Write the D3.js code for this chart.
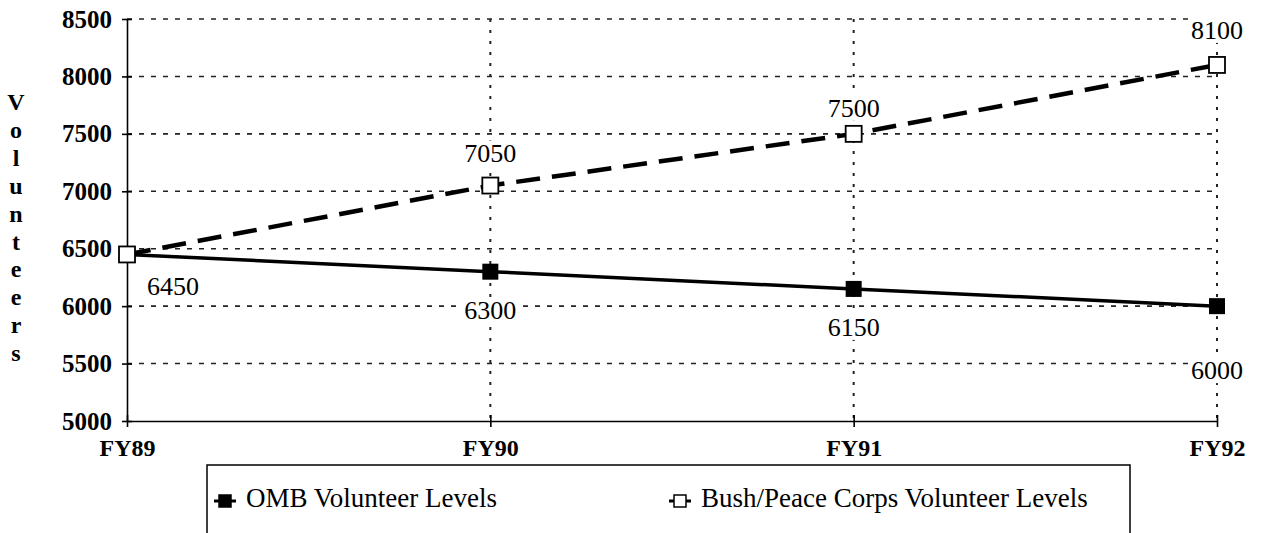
<!DOCTYPE html>
<html>
<head>
<meta charset="utf-8">
<script src="https://cdn.jsdelivr.net/npm/d3@7"></script>
<style>
  body { margin: 0; background: #fff; }
  svg { display: block; }
</style>
</head>
<body>
<svg id="chart" width="1262" height="533"></svg>
<script>
// data
var years = ["FY89", "FY90", "FY91", "FY92"];
var ombLevels = [6450, 6300, 6150, 6000];
var bushLevels = [6450, 7050, 7500, 8100];
var yTicks = [5000, 5500, 6000, 6500, 7000, 7500, 8000, 8500];
var seriesNames = ["OMB Volunteer Levels", "Bush/Peace Corps Volunteer Levels"];
var yTitle = "Volunteers";

var serif = "Liberation Serif";
var svg = d3.select("#chart").style("font-family", serif);

var margin = { top: 19, right: 45, bottom: 112, left: 127 };
var width = 1262 - margin.left - margin.right,
    height = 533 - margin.top - margin.bottom;

var g = svg.append("g")
    .attr("transform", "translate(" + margin.left + "," + margin.top + ")");

var x = d3.scalePoint()
    .domain(years)
    .range([0, width]);

var y = d3.scaleLinear()
    .domain([5000, 8500])
    .range([height, 0]);

// horizontal dashed grid
g.append("g")
    .selectAll("line")
    .data(yTicks.slice(1))
    .join("line")
    .attr("x1", 0)
    .attr("x2", width)
    .attr("y1", function (d) { return y(d); })
    .attr("y2", function (d) { return y(d); })
    .attr("stroke", "#222")
    .attr("stroke-width", 1.6)
    .attr("stroke-dasharray", "5,7");

// vertical dotted grid
g.append("g")
    .selectAll("line")
    .data(years.slice(1))
    .join("line")
    .attr("x1", function (d) { return x(d); })
    .attr("x2", function (d) { return x(d); })
    .attr("y1", 0)
    .attr("y2", height)
    .attr("stroke", "#222")
    .attr("stroke-width", 2)
    .attr("stroke-dasharray", "3,8");

// y axis
var yAxis = g.append("g")
    .call(d3.axisLeft(y).tickValues(yTicks).tickFormat(d3.format("d"))
        .tickSize(5).tickSizeOuter(0).tickPadding(10));
yAxis.select(".domain").attr("stroke-width", 1.6);
yAxis.selectAll(".tick line").attr("x2", 5).attr("x1", -5).attr("stroke-width", 1.6);
yAxis.selectAll(".tick text")
    .style("font-family", serif)
    .style("font-size", "25px")
    .style("font-weight", "bold");

// x axis
var xAxis = g.append("g")
    .attr("transform", "translate(0," + height + ")")
    .call(d3.axisBottom(x).tickSize(6).tickSizeOuter(0).tickPadding(12));
xAxis.select(".domain").attr("stroke-width", 1.6);
xAxis.selectAll(".tick line").attr("y1", -6).attr("y2", 6).attr("stroke-width", 1.6);
xAxis.selectAll(".tick text")
    .style("font-family", serif)
    .style("font-size", "24px")
    .style("font-weight", "bold");

// y title, stacked letters
svg.append("g")
    .selectAll("text")
    .data(yTitle.split(""))
    .join("text")
    .attr("x", 16)
    .attr("y", function (d, i) { return 110 + i * 27.9; })
    .attr("text-anchor", "middle")
    .style("font-family", serif)
    .style("font-size", "24px")
    .style("font-weight", "bold")
    .text(function (d) { return d; });

var line = d3.line()
    .x(function (d, i) { return x(years[i]); })
    .y(function (d) { return y(d); });

// OMB solid line
g.append("path")
    .datum(ombLevels)
    .attr("d", line)
    .attr("fill", "none")
    .attr("stroke", "#000")
    .attr("stroke-width", 3.5);

// Bush dashed line
g.append("path")
    .datum(bushLevels)
    .attr("d", line)
    .attr("fill", "none")
    .attr("stroke", "#000")
    .attr("stroke-width", 4.5)
    .attr("stroke-dasharray", "24,12");

// markers
g.append("g")
    .selectAll("rect")
    .data(ombLevels)
    .join("rect")
    .attr("x", function (d, i) { return x(years[i]) - 8; })
    .attr("y", function (d) { return y(d) - 8; })
    .attr("width", 16)
    .attr("height", 16)
    .attr("fill", "#000");

g.append("g")
    .selectAll("rect")
    .data(bushLevels)
    .join("rect")
    .attr("x", function (d, i) { return x(years[i]) - 8; })
    .attr("y", function (d) { return y(d) - 8; })
    .attr("width", 16)
    .attr("height", 16)
    .attr("fill", "#fff")
    .attr("stroke", "#000")
    .attr("stroke-width", 1.8);

// data labels with white backing
function addLabel(px, py, txt) {
    var lg = g.append("g");
    var t = lg.append("text")
        .attr("x", px)
        .attr("y", py)
        .attr("text-anchor", "middle")
        .attr("dominant-baseline", "middle")
        .style("font-family", serif)
        .style("font-size", "26px")
        .text(txt);
    var bb = t.node().getBBox();
    lg.insert("rect", "text")
        .attr("x", bb.x - 2)
        .attr("y", bb.y + 2)
        .attr("width", bb.width + 4)
        .attr("height", bb.height - 4)
        .attr("fill", "#fff");
}

// label offsets (pixels) from each point
var bushLabelDx = [46, 0, 0, 0], bushLabelDy = [35, -30, -23, -32];
var ombLabelDy = [0, 41, 41, 67];

bushLevels.forEach(function (v, i) {
    addLabel(x(years[i]) + bushLabelDx[i], y(v) + bushLabelDy[i], v);
});
ombLevels.forEach(function (v, i) {
    if (i === 0) return; // shared with the Bush label at FY89
    addLabel(x(years[i]), y(v) + ombLabelDy[i], v);
});

// legend
var legend = svg.append("g");
legend.append("rect")
    .attr("x", 207)
    .attr("y", 465)
    .attr("width", 923)
    .attr("height", 80)
    .attr("fill", "#fff")
    .attr("stroke", "#000")
    .attr("stroke-width", 1.5);

var legendX = [214, 669];
seriesNames.forEach(function (name, i) {
    var lx = legendX[i], ly = 501;
    legend.append("line")
        .attr("x1", lx)
        .attr("x2", lx + 22)
        .attr("y1", ly)
        .attr("y2", ly)
        .attr("stroke", "#000")
        .attr("stroke-width", 3);
    legend.append("rect")
        .attr("x", lx + 5)
        .attr("y", ly - 6)
        .attr("width", 12)
        .attr("height", 12)
        .attr("fill", i === 0 ? "#000" : "#fff")
        .attr("stroke", "#000")
        .attr("stroke-width", 1.5);
    legend.append("text")
        .attr("x", lx + 32)
        .attr("y", ly)
        .attr("dominant-baseline", "middle")
        .style("font-family", serif)
        .style("font-size", "27px")
        .text(name);
});
</script>
</body>
</html>
